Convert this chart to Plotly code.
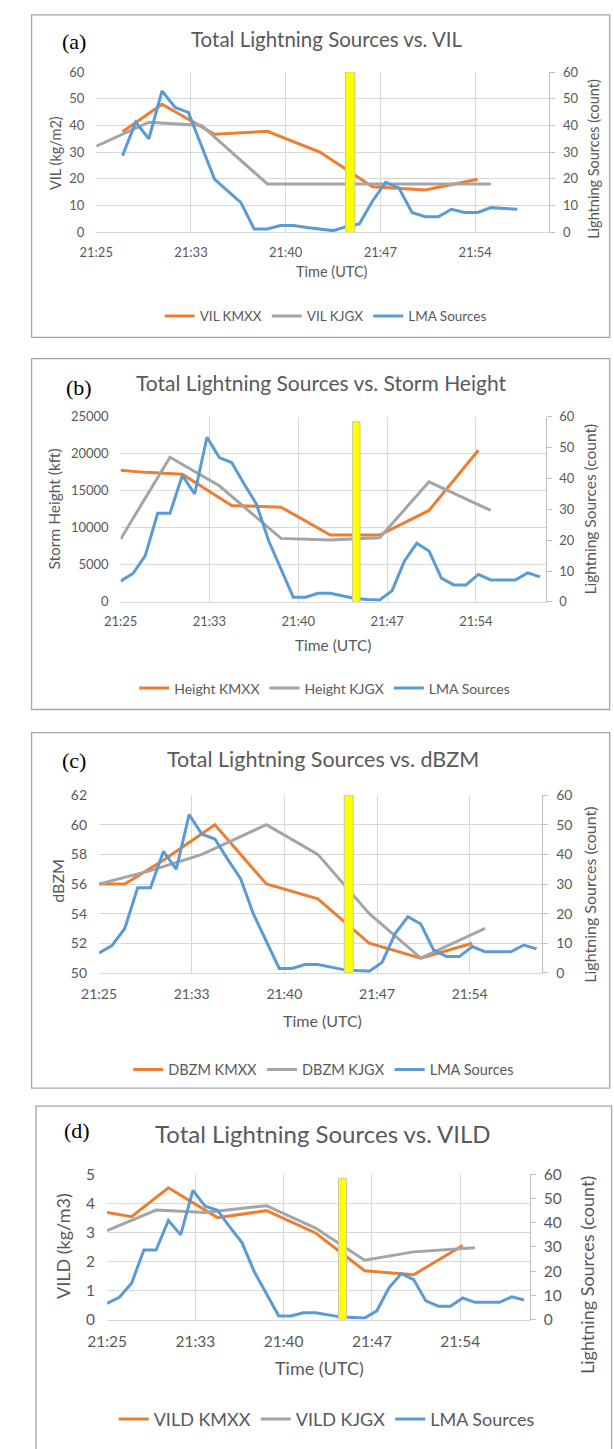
import plotly.graph_objects as go

W, H = 614, 1449

# ---------------- data ----------------
tick_minutes = [0, 7.2, 14.4, 21.6, 28.8]
tick_labels = ["21:25", "21:33", "21:40", "21:47", "21:54"]

# LMA sources, panels (b), (c), (d)  (minutes after 21:25)
lma_minutes = list(range(35))
lma_sources = [6.7, 9.2, 15.0, 28.7, 28.7, 41.0, 35.0, 53.4, 46.8, 45.2,
               38.3, 31.8, 19.8, 10.8, 1.5, 1.5, 2.8, 2.8, 2.0, 1.1,
               0.8, 0.6, 3.6, 13.2, 19.0, 16.5, 7.7, 5.5, 5.5, 8.9,
               7.1, 7.1, 7.1, 9.4, 8.1]

# LMA sources, panel (a)
lma_minutes_a = [2, 3, 4, 5, 6, 7, 9, 11, 12, 13, 14, 15, 16, 17, 18, 19, 20,
                 21, 22, 23, 24, 25, 26, 27, 28, 29, 30, 31, 32]
lma_sources_a = [28.7, 41.2, 35.0, 52.9, 46.7, 44.9, 19.8, 11.1, 1.2, 1.2,
                 2.5, 2.5, 1.8, 1.2, 0.6, 2.1, 3.1, 11.7, 18.7, 16.6,
                 7.4, 5.8, 5.8, 8.6, 7.4, 7.4, 9.2, 8.9, 8.6]

kmxx_minutes = [0, 2, 5, 9, 13, 17, 21, 25, 29]
kmxx_minutes_a = [2, 5, 9, 13, 17, 21, 25, 29]
kjgx_minutes = [0, 4, 8, 13, 17, 21, 25, 30]

vil_kmxx = [37.6, 47.9, 36.7, 37.8, 30.0, 17.0, 15.8, 19.8]
vil_kjgx = [32.2, 41.2, 40.0, 18.1, 18.1, 18.1, 18.1, 18.1]

height_kmxx = [17778, 17500, 17244, 13022, 12800, 9022, 9022, 12355, 20489]
height_kjgx = [8488, 19555, 15688, 8577, 8355, 8666, 16222, 12355]

dbzm_kmxx = [56.0, 56.0, 57.6, 60.0, 56.0, 55.0, 52.0, 51.0, 52.0]
dbzm_kjgx = [56.0, 56.9, 58.0, 60.0, 58.0, 54.0, 51.0, 53.0]

vild_kmxx = [3.69, 3.54, 4.54, 3.51, 3.75, 2.98, 1.68, 1.54, 2.55]
vild_kjgx = [3.06, 3.77, 3.69, 3.92, 3.15, 2.04, 2.33, 2.47]

# yellow marker (time of interest), height on the lightning axis
marker_minute = [[19.3], [19.1], [19.4], [19.2]]
marker_height = [[60], [58.4], [60], [58.4]]
marker_width = [0.72, 0.62, 0.7, 0.66]

ORANGE, GRAY, BLUE = "#ED7D31", "#A5A5A5", "#5B9BD5"
TXT = "#595959"
FONT = "Lato, 'Open Sans', sans-serif"

panels = [
    dict(label="(a)", title="Total Lightning Sources vs. VIL",
         ytitle="VIL (kg/m2)", names=["VIL KMXX", "VIL KJGX", "LMA Sources"],
         kmx=(kmxx_minutes_a, vil_kmxx), kjg=(kjgx_minutes, vil_kjgx),
         lma=(lma_minutes_a, lma_sources_a), yrange=[0, 60], dtick=10, tick0=0,
         box=(12, 5, 609.5, 331.5), plot=(78.8, 62.8, 547.3, 225),
         title_x=317, title_y=29, label_xy=(56, 32), ytitle_x=36, ytitle_y=145,
         y2title_x=592, y2title_y=151, xtitle_xy=(322, 265), leg_xy=(316, 310),
         tick=13, axt=14.5, tit=20.5, leg=13.5),
    dict(label="(b)", title="Total Lightning Sources vs. Storm Height",
         ytitle="Storm Height (kft)", names=["Height KMXX", "Height KJGX", "LMA Sources"],
         kmx=(kmxx_minutes, height_kmxx), kjg=(kjgx_minutes, height_kjgx),
         lma=(lma_minutes, lma_sources), yrange=[0, 25000], dtick=5000, tick0=0,
         box=(12, 353, 609.5, 708.3), plot=(104, 412, 543.3, 599.3),
         title_x=311, title_y=377, label_xy=(61, 382), ytitle_x=35, ytitle_y=505,
         y2title_x=589, y2title_y=505, xtitle_xy=(324, 643), leg_xy=(315, 687),
         tick=13, axt=15.5, tit=21, leg=14),
    dict(label="(c)", title="Total Lightning Sources vs. dBZM",
         ytitle="dBZM", names=["DBZM KMXX", "DBZM KJGX", "LMA Sources"],
         kmx=(kmxx_minutes, dbzm_kmxx), kjg=(kjgx_minutes, dbzm_kjgx),
         lma=(lma_minutes, lma_sources), yrange=[50, 62], dtick=2, tick0=50,
         box=(12, 731.7, 609.5, 1091.7), plot=(81.7, 795, 540, 975),
         title_x=313, title_y=758, label_xy=(56, 760), ytitle_x=38, ytitle_y=882,
         y2title_x=589, y2title_y=896, xtitle_xy=(313, 1023), leg_xy=(314, 1073),
         tick=14, axt=16, tit=21.5, leg=14.5),
    dict(label="(d)", title="Total Lightning Sources vs. VILD",
         ytitle="VILD (kg/m3)", names=["VILD KMXX", "VILD KJGX", "LMA Sources"],
         kmx=(kmxx_minutes, vild_kmxx), kjg=(kjgx_minutes, vild_kjgx),
         lma=(lma_minutes, lma_sources), yrange=[0, 5], dtick=1, tick0=0,
         box=(16.5, 1110, 611.5, 1460), plot=(90, 1179, 526.7, 1326),
         title_x=313, title_y=1138, label_xy=(59, 1135), ytitle_x=45, ytitle_y=1252,
         y2title_x=586, y2title_y=1281, xtitle_xy=(310, 1375), leg_xy=(317, 1427),
         tick=15.5, axt=18, tit=24, leg=18),
]


def fx(px):
    return px / W


def fy(py):
    return 1 - py / H


fig = go.Figure()
layout = dict(width=W, height=H, margin=dict(l=0, r=0, t=0, b=0),
              paper_bgcolor="white", plot_bgcolor="white",
              showlegend=True, annotations=[], shapes=[])

for i, p in enumerate(panels, start=1):
    xid = "x" if i == 1 else f"x{i}"
    xkey = "xaxis" if i == 1 else f"xaxis{i}"
    yl, yr, yb = 3 * i - 2, 3 * i - 1, 3 * i
    ylid = "y" if yl == 1 else f"y{yl}"
    ylkey = "yaxis" if yl == 1 else f"yaxis{yl}"
    legid = "legend" if i == 1 else f"legend{i}"
    l, t, r, b = p["plot"]
    tf = dict(family=FONT, size=p["tick"], color=TXT)

    layout[xkey] = dict(domain=[fx(l), fx(r)], anchor=ylid, range=[0, 34.45],
                        tickmode="array", tickvals=tick_minutes, ticktext=tick_labels,
                        showgrid=True, gridcolor="#D9D9D9", gridwidth=1,
                        showline=True, linecolor="#D9D9D9", linewidth=1,
                        zeroline=False, ticks="", tickfont=tf, ticklabelstandoff=8)
    layout[ylkey] = dict(domain=[fy(b), fy(t)], anchor=xid, range=p["yrange"],
                         tickmode="linear", tick0=p["tick0"], dtick=p["dtick"],
                         tickformat="d",
                         showgrid=True, gridcolor="#D9D9D9", gridwidth=1,
                         showline=False, zeroline=False, ticks="", tickfont=tf,
                         ticklabelstandoff=11)
    layout[f"yaxis{yr}"] = dict(overlaying=ylid, side="right", anchor=xid,
                                range=[0, 60], tickmode="linear", tick0=0, dtick=10,
                                showgrid=False, showline=True, linecolor="#BFBFBF",
                                linewidth=1, ticks="outside", ticklen=5,
                                tickcolor="#BFBFBF", zeroline=False, tickfont=tf,
                                ticklabelstandoff=5)
    layout[f"yaxis{yb}"] = dict(overlaying=ylid, side="right", anchor=xid,
                                range=[0, 60], visible=False)

    fig.add_trace(go.Scatter(x=p["kmx"][0], y=p["kmx"][1], name=p["names"][0],
                             mode="lines", line=dict(color=ORANGE, width=3),
                             xaxis=xid, yaxis=ylid, legend=legid))
    fig.add_trace(go.Scatter(x=p["kjg"][0], y=p["kjg"][1], name=p["names"][1],
                             mode="lines", line=dict(color=GRAY, width=3),
                             xaxis=xid, yaxis=ylid, legend=legid))
    fig.add_trace(go.Scatter(x=p["lma"][0], y=p["lma"][1], name=p["names"][2],
                             mode="lines", line=dict(color=BLUE, width=3),
                             xaxis=xid, yaxis=f"y{yr}", legend=legid))
    fig.add_trace(go.Bar(x=marker_minute[i - 1], y=marker_height[i - 1],
                         width=[marker_width[i - 1]],
                         marker=dict(color="#FFFF00", line=dict(color="#C8C8A0", width=1)),
                         xaxis=xid, yaxis=f"y{yb}", showlegend=False))

    layout[legid] = dict(orientation="h", x=fx(p["leg_xy"][0]), xanchor="center",
                         y=fy(p["leg_xy"][1]), yanchor="middle",
                         bgcolor="rgba(0,0,0,0)", itemwidth=30, tracegroupgap=0,
                         font=dict(family=FONT, size=p["leg"], color=TXT))

    bx0, by0, bx1, by1 = p["box"]
    layout["shapes"].append(dict(type="rect", xref="paper", yref="paper",
                                 x0=fx(bx0), x1=fx(bx1), y0=fy(by1), y1=fy(by0),
                                 line=dict(color="#A6A6A6", width=1.3),
                                 fillcolor="rgba(0,0,0,0)", layer="below"))

    def ann(text, x, y, size, color=TXT, family=FONT, angle=0):
        layout["annotations"].append(dict(text=text, x=fx(x), y=fy(y), xref="paper",
                                          yref="paper", showarrow=False,
                                          xanchor="center", yanchor="middle",
                                          textangle=angle,
                                          font=dict(family=family, size=size, color=color)))

    ann(p["title"], p["title_x"], p["title_y"], p["tit"])
    ann(p["label"], p["label_xy"][0], p["label_xy"][1], 22, color="black",
        family="'Liberation Serif', 'Times New Roman', serif")
    ann(p["ytitle"], p["ytitle_x"], p["ytitle_y"], p["axt"], angle=-90)
    ann("Lightning Sources (count)", p["y2title_x"], p["y2title_y"], p["axt"], angle=-90)
    ann("Time (UTC)", p["xtitle_xy"][0], p["xtitle_xy"][1], p["axt"])

fig.update_layout(**layout)
fig.write_html("out.html", config={"displayModeBar": False},
               post_script="document.body.style.margin='0px';")
